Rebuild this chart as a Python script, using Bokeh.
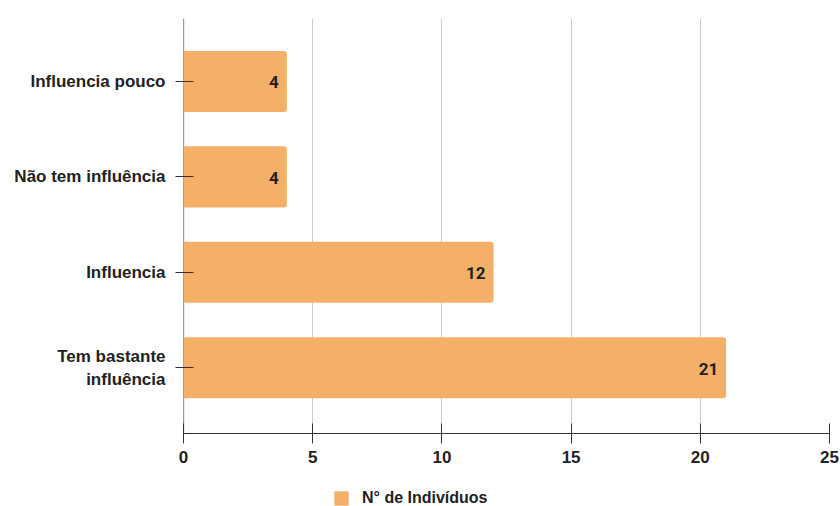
from bokeh.plotting import figure
from bokeh.layouts import column
from bokeh.models import ColumnDataSource, FixedTicker, Legend, LegendItem, Span
from bokeh.core.properties import value
from bokeh.embed import file_html
from bokeh.resources import INLINE

# Survey answers, listed from the bottom bar to the top bar
categories = ["Tem bastante\ninfluência", "Influencia", "Não tem influência", "Influencia pouco"]
counts = [21, 12, 4, 4]
x_ticks = [0, 5, 10, 15, 20, 25]
series_name = "N° de Indivíduos"

BAR_COLOR = "#F4B068"
INK = "#222222"
AXIS = "#333333"

positions = list(range(len(categories)))
source = ColumnDataSource(data=dict(
    y=positions,
    right=counts,
    label=[str(c) for c in counts],
))

p = figure(
    width=840, height=480,
    x_range=(0, 25), y_range=(-0.69, 3.66),
    output_backend="svg", toolbar_location=None,
    min_border_left=183, min_border_right=11,
    min_border_top=18, min_border_bottom=47,
)
p.outline_line_color = None

# vertical axis line sits underneath the bars
p.add_layout(Span(location=0, dimension="height", line_color=AXIS,
                  line_width=1.2, level="underlay"))

bars = p.hbar(y="y", left=0, right="right", height=0.64, source=source,
              fill_color=BAR_COLOR, line_color=None,
              border_radius=(0, 3, 3, 0))

p.text(x="right", y="y", text="label", source=source,
       text_align="right", text_baseline="middle", x_offset=-8, y_offset=1,
       text_font=value("Roboto"), text_font_style="bold",
       text_font_size="17px", text_color=INK)

# grid
p.ygrid.grid_line_color = None
p.xgrid.grid_line_color = "#cccccc"
p.xgrid.grid_line_width = 1
p.xgrid.ticker = FixedTicker(ticks=x_ticks)

# x axis
p.xaxis.ticker = FixedTicker(ticks=x_ticks)
p.xaxis.axis_line_color = AXIS
p.xaxis.axis_line_width = 1.2
p.xaxis.major_tick_line_color = AXIS
p.xaxis.major_tick_in = 10
p.xaxis.major_tick_out = 10
p.xaxis.minor_tick_line_color = None
p.xaxis.major_label_standoff = 7
p.xaxis.major_label_text_font = "Liberation Sans"
p.xaxis.major_label_text_font_style = "bold"
p.xaxis.major_label_text_font_size = "17px"
p.xaxis.major_label_text_color = INK

# y axis with category names
p.yaxis.ticker = FixedTicker(ticks=positions)
p.yaxis.major_label_overrides = {i: c for i, c in zip(positions, categories)}
p.yaxis.axis_line_color = None
p.yaxis.major_tick_line_color = AXIS
p.yaxis.major_tick_in = 10
p.yaxis.major_tick_out = 8
p.yaxis.minor_tick_line_color = None
p.yaxis.major_label_standoff = 10
p.yaxis.major_label_text_font = "Liberation Sans"
p.yaxis.major_label_text_font_style = "bold"
p.yaxis.major_label_text_font_size = "17px"
p.yaxis.major_label_text_color = INK

# legend strip under the chart (its frame lines up with the chart frame)
leg_fig = figure(
    width=840, height=26, x_range=(0, 1), y_range=(0, 1),
    output_backend="svg", toolbar_location=None,
    min_border=0, outline_line_color=None,
)
leg_fig.axis.visible = False
leg_fig.grid.visible = False
# zero-size swatch renderer placed off-range; only its legend entry is drawn
swatch = leg_fig.hbar(y=[5], left=[2], right=[3], height=0,
                      fill_color=BAR_COLOR, line_color=None,
                      border_radius=3)
legend = Legend(items=[LegendItem(label=series_name, renderers=[swatch])],
                location=(149, -1), orientation="horizontal",
                border_line_color=None, background_fill_alpha=0,
                glyph_width=18, glyph_height=18, label_standoff=12,
                label_text_font="Liberation Sans", label_text_font_style="bold",
                label_text_font_size="16px", label_text_color=INK,
                label_height=18, padding=0, margin=0, spacing=0)
leg_fig.add_layout(legend, "center")

layout = column(p, leg_fig, spacing=0)

open("out.html", "w").write(file_html(layout, INLINE))
